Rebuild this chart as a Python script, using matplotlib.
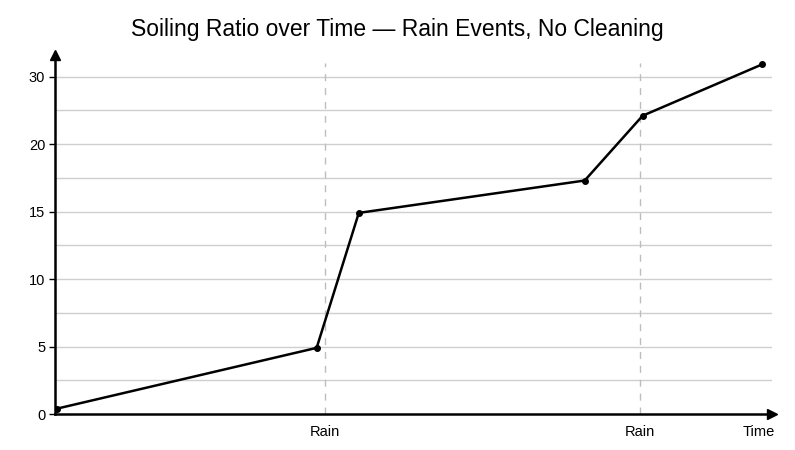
import matplotlib.pyplot as plt

# dati (asse x in unita' di tempo arbitrarie)
days = [0.3, 36.6, 42.5, 74.1, 82.2, 98.9]
soiling = [0.4, 4.9, 14.9, 17.3, 22.1, 25.9]
rain_days = [37.8, 81.8]
tick_pos = [0, 5, 10, 15, 20, 25]
tick_labels = ['0', '5', '10', '15', '20', '30']
x_labels = ['Rain', 'Rain', 'Time']

plt.rcParams['font.family'] = ['Liberation Sans', 'DejaVu Sans']

fig = plt.figure(figsize=(7.95, 4.5), dpi=100)
ax = fig.add_axes([55 / 795, 36 / 450, 717 / 795, 359 / 450])

ax.set_xlim(0, 100.3)
ax.set_ylim(0, 26.6)

# griglia orizzontale ogni mezzo tick
for g in [i * 2.5 for i in range(1, 11)]:
    ax.axhline(g, color='#cfcfcf', lw=1, zorder=0)

for r in rain_days:
    ax.vlines(r, 0, 26.0, colors='#bdbdbd', linestyles=(0, (5, 5)), lw=1, zorder=1)

ax.plot(days, soiling, color='black', lw=1.8, marker='o', ms=4, zorder=3)

ax.spines['top'].set_visible(False)
ax.spines['right'].set_visible(False)
ax.spines['left'].set_linewidth(1.8)
ax.spines['bottom'].set_linewidth(1.8)

# frecce sugli assi
ax.plot(0, 1, '^k', ms=7, transform=ax.transAxes, clip_on=False)
ax.plot(1, 0, '>k', ms=7, transform=ax.transAxes, clip_on=False)

ax.set_yticks(tick_pos)
ax.set_yticklabels(tick_labels, fontsize=10.5)
ax.tick_params(axis='y', length=4, width=1, pad=3)

ax.set_xticks(rain_days + [98.4])
ax.set_xticklabels(x_labels, fontsize=10.5)
ax.tick_params(axis='x', length=0, pad=8)

fig.text(0.5, 0.935, 'Soiling Ratio over Time \u2014 Rain Events, No Cleaning',
         ha='center', va='center', fontsize=16.5)

fig.savefig('out.png', dpi=100)
